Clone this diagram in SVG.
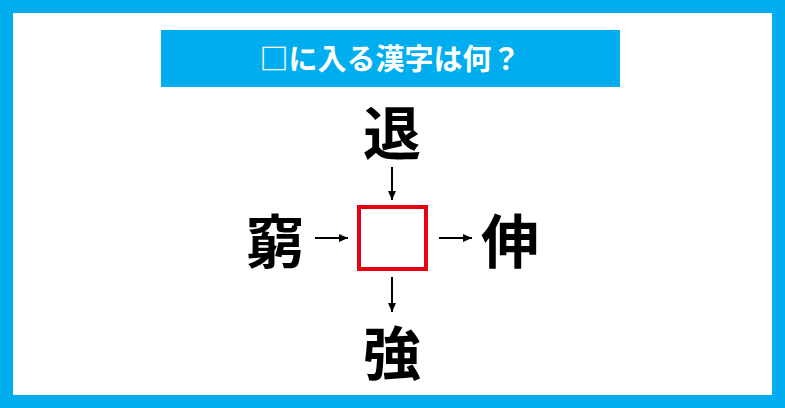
<svg xmlns="http://www.w3.org/2000/svg" width="785" height="408" viewBox="0 0 785 408">
<defs>
<style>
.big{font-family:"Noto Sans CJK JP","Noto Sans CJK SC",sans-serif;font-weight:700;font-size:58px;fill:#000;text-anchor:middle;dominant-baseline:central}
.title{font-family:"Noto Sans CJK JP","Noto Sans CJK SC",sans-serif;font-weight:700;font-size:29px;fill:#fff;text-anchor:middle;dominant-baseline:central}
.arr{stroke:#000;stroke-width:2;fill:none;marker-end:url(#ah)}
</style>
<marker id="ah" viewBox="0 0 9 8" refX="9" refY="4" markerWidth="9" markerHeight="8" markerUnits="userSpaceOnUse" orient="auto">
<path d="M0,0 L9,4 L0,8 z" fill="#000"/>
</marker>
</defs>
<rect x="0" y="0" width="785" height="408" fill="#00adef"/>
<rect x="13" y="13" width="759" height="382" fill="#fff"/>
<g id="title">
<rect x="161" y="30" width="459" height="57" fill="#00adef"/>
<text class="title" x="390" y="56.5">□に入る漢字は何？</text>
</g>
<g id="center">
<rect x="359" y="207" width="67" height="62" fill="#fff" stroke="#e60012" stroke-width="4"/>
</g>
<g id="top"><text class="big" x="392" y="130">退</text></g>
<g id="left"><text class="big" x="275" y="238">窮</text></g>
<g id="right"><text class="big" x="510" y="238">伸</text></g>
<g id="bottom"><text class="big" x="392" y="350">強</text></g>
<g id="connectors">
<line class="arr" x1="392" y1="167" x2="392" y2="200"/>
<line class="arr" x1="315" y1="238" x2="348" y2="238"/>
<line class="arr" x1="439" y1="238" x2="472" y2="238"/>
<line class="arr" x1="392" y1="277" x2="392" y2="312"/>
</g>
</svg>
